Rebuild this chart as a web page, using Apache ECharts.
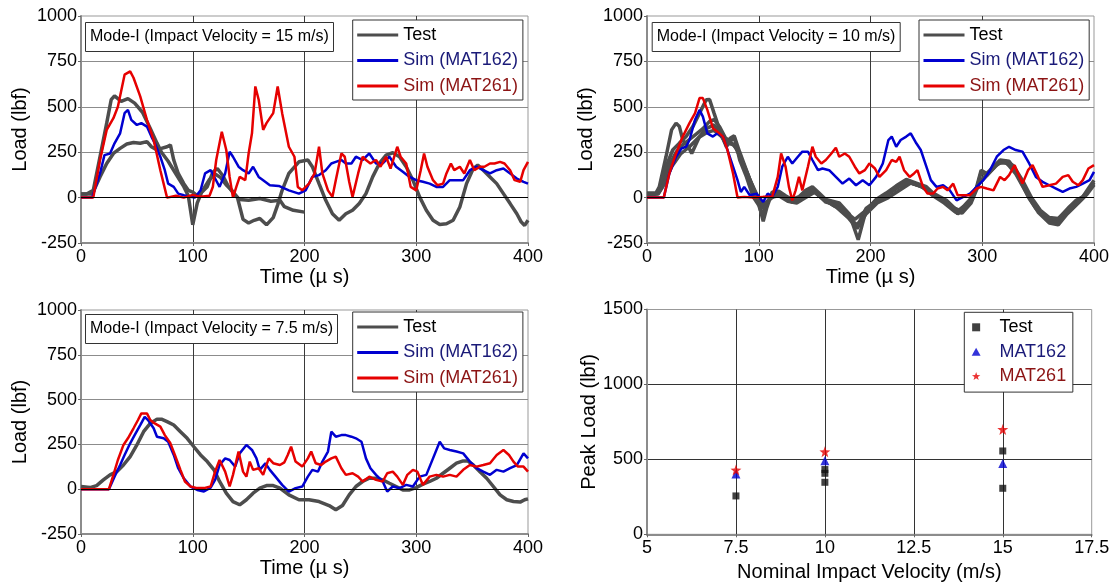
<!DOCTYPE html>
<html><head><meta charset="utf-8">
<script src="https://cdn.jsdelivr.net/npm/echarts@6/dist/echarts.min.js"></script>
<style>html,body{margin:0;padding:0;background:#fff}#c{width:1114px;height:587px}</style>
</head><body><div id="c"></div>
<script>
// ---------- Data ----------
const timeTicks = [0, 100, 200, 300, 400];
const loadTicks = [-250, 0, 250, 500, 750, 1000];
const velocityTicks = [5, 7.5, 10, 12.5, 15, 17.5];
const peakTicks = [0, 500, 1000, 1500];

// Panel 1: 15 m/s
const p1Test1 = [[0,20],[5,20],[11,40],[17,225],[23,410],[27,539],[30,560],[36,530],[42,545],[48,520],[55,470],[62,380],[68,300],[72,250],[78,200],[85,130],[92,60],[96,10],[100,-150],[104,-30],[108,30],[113,60],[118,140],[122,160],[127,120],[132,60],[137,20],[142,-10],[150,-15],[160,-5],[170,-20],[178,-15],[182,-50],[190,-70],[200,-80]];
const p1Test2 = [[0,20],[10,20],[17,114],[23,188],[29,243],[35,271],[41,295],[47,303],[53,299],[59,308],[63,280],[68,262],[72,271],[77,280],[80,290],[83,207],[87,133],[92,77],[96,40],[100,30],[105,5],[110,50],[115,100],[120,130],[125,110],[130,70],[135,40],[140,0],[145,-120],[150,-140],[155,-125],[160,-115],[166,-150],[172,-110],[176,-40],[180,40],[186,133],[195,197],[203,207],[207,170],[213,77],[219,-15],[225,-89],[231,-125],[237,-89],[243,-70],[249,-33],[255,22],[261,114],[267,188],[273,234],[279,247],[285,225],[291,170],[297,96],[303,4],[309,-70],[315,-125],[321,-148],[327,-144],[333,-125],[339,-52],[345,77],[351,160],[355,179],[360,151],[366,114],[372,77],[378,22],[384,-33],[390,-89],[394,-135],[397,-153],[400,-125]];
const p1Mat162 = [[0,0],[10,0],[17,133],[21,234],[26,243],[30,299],[35,354],[39,465],[42,483],[45,428],[50,400],[54,410],[59,391],[63,336],[66,299],[71,225],[75,151],[78,77],[83,59],[87,22],[92,13],[98,4],[102,0],[107,40],[111,133],[116,151],[120,105],[124,59],[129,133],[133,253],[136,225],[141,170],[145,151],[150,133],[154,170],[159,114],[163,96],[169,68],[177,64],[186,40],[195,22],[201,40],[207,114],[213,124],[219,151],[224,188],[228,197],[233,207],[237,188],[242,188],[246,225],[252,207],[258,243],[264,188],[270,188],[276,225],[282,170],[288,142],[294,114],[300,96],[306,87],[312,77],[318,59],[324,59],[330,96],[336,96],[342,96],[348,151],[354,170],[360,151],[366,133],[372,151],[378,160],[384,133],[390,105],[396,87],[400,77]];
const p1Mat261 = [[0,0],[11,0],[17,207],[23,373],[29,437],[33,500],[39,677],[44,695],[47,660],[53,557],[59,428],[65,317],[71,151],[77,0],[85,10],[92,0],[100,15],[107,5],[115,10],[118,60],[121,207],[126,363],[130,262],[133,114],[136,0],[139,59],[142,114],[147,96],[150,243],[153,354],[156,612],[159,539],[163,373],[166,410],[172,465],[176,612],[180,465],[186,280],[191,225],[194,59],[198,40],[204,77],[209,133],[213,280],[216,133],[221,40],[225,4],[228,96],[233,243],[236,225],[240,87],[243,4],[248,133],[252,225],[255,207],[259,188],[264,207],[268,170],[273,225],[277,160],[283,280],[286,225],[291,188],[295,59],[300,40],[304,151],[307,243],[310,170],[315,96],[319,68],[324,77],[327,133],[331,188],[334,151],[339,170],[343,133],[348,207],[352,151],[357,170],[361,170],[366,188],[370,188],[375,197],[379,188],[384,151],[388,96],[393,87],[396,151],[400,197]];

// Panel 2: 10 m/s
const p2Test1 = [[0,25],[8,25],[11,59],[17,225],[22,373],[26,410],[29,391],[32,317],[37,280],[40,243],[47,336],[53,380],[60,400],[65,360],[70,300],[75,330],[78,340],[83,250],[89,150],[95,50],[100,-30],[104,-130],[107,-60],[112,30],[118,35],[124,10],[130,-10],[136,5],[142,40],[148,60],[154,25],[160,-10],[172,-30],[181,-90],[189,-232],[196,-70],[205,-10],[214,25],[223,65],[232,100],[241,80],[250,60],[256,25],[262,5],[268,-15],[274,-50],[278,-75],[283,-50],[289,-10],[295,60],[299,151],[304,133],[310,170],[316,207],[324,200],[330,150],[336,80],[342,5],[348,-50],[354,-85],[360,-120],[366,-130],[372,-90],[378,-50],[384,-15],[390,5],[396,60],[400,96]];
const p2Test2 = [[0,20],[8,22],[12,60],[17,170],[23,262],[29,300],[35,336],[41,391],[47,465],[53,539],[56,540],[60,465],[65,373],[71,280],[75,317],[78,336],[83,207],[89,114],[95,4],[100,-42],[103,-100],[106,-40],[112,15],[118,20],[124,-5],[130,-25],[136,-10],[142,25],[148,45],[154,10],[160,-25],[172,-45],[181,-100],[187,-150],[190,-135],[196,-60],[205,-20],[214,15],[223,50],[232,90],[241,70],[250,50],[256,15],[262,-5],[268,-25],[274,-60],[278,-90],[283,-60],[289,-20],[295,50],[299,140],[304,125],[310,160],[316,200],[320,195],[324,180],[330,145],[336,70],[342,-5],[348,-60],[354,-95],[360,-130],[366,-140],[372,-95],[378,-55],[384,-20],[390,0],[396,50],[400,85]];
const p2Test3 = [[0,15],[10,20],[14,60],[20,180],[26,250],[32,290],[38,320],[44,350],[50,380],[56,420],[60,430],[65,390],[70,330],[76,300],[80,270],[86,190],[92,100],[98,20],[104,-60],[110,0],[118,10],[126,-20],[134,-30],[142,0],[150,30],[158,-10],[170,-55],[180,-110],[188,-170],[196,-90],[206,-30],[216,0],[226,40],[236,80],[246,60],[256,10],[266,-30],[276,-80],[282,-85],[290,-30],[298,90],[306,140],[314,190],[322,190],[330,130],[340,20],[350,-80],[360,-140],[368,-150],[376,-90],[386,-30],[394,20],[400,70]];
const p2Test4 = [[0,20],[10,22],[15,70],[22,170],[30,240],[38,280],[46,330],[54,360],[60,370],[66,340],[72,300],[78,290],[84,220],[90,130],[96,40],[102,-40],[108,-20],[116,20],[124,0],[132,-20],[140,10],[148,40],[156,0],[166,-40],[178,-80],[186,-120],[194,-80],[204,-25],[214,10],[224,55],[234,85],[244,65],[254,30],[264,-10],[274,-55],[280,-70],[288,-35],[296,70],[304,120],[312,175],[320,205],[328,175],[336,95],[344,0],[352,-70],[360,-110],[368,-115],[376,-70],[386,-20],[394,30],[400,75]];
const p2Mat162 = [[0,0],[15,0],[20,133],[26,225],[31,271],[35,280],[38,317],[43,428],[47,483],[50,446],[54,354],[59,336],[63,354],[68,336],[72,262],[77,170],[81,96],[84,31],[87,59],[92,13],[98,22],[104,-24],[108,22],[112,4],[117,59],[121,170],[126,225],[130,188],[135,225],[139,253],[144,253],[148,207],[153,151],[157,160],[163,151],[169,114],[175,77],[181,105],[187,68],[193,96],[199,68],[205,114],[211,188],[216,317],[219,336],[223,280],[227,317],[232,336],[236,354],[241,299],[245,262],[250,170],[254,96],[259,59],[265,68],[271,40],[277,-15],[283,4],[289,22],[295,59],[301,96],[307,151],[313,225],[319,262],[324,280],[330,262],[336,253],[342,188],[348,114],[354,87],[360,68],[366,50],[372,31],[378,50],[384,59],[390,77],[396,96],[400,142]];
const p2Mat261 = [[0,0],[15,0],[20,133],[26,243],[32,336],[38,410],[43,465],[47,548],[50,548],[54,483],[59,382],[63,363],[68,336],[72,262],[77,133],[81,0],[87,4],[95,0],[104,4],[112,4],[117,114],[120,243],[124,170],[127,59],[130,-15],[133,40],[136,114],[139,40],[144,170],[148,280],[151,225],[156,188],[160,207],[165,243],[169,275],[172,225],[177,243],[181,225],[186,170],[190,133],[195,151],[199,188],[204,160],[208,114],[214,151],[219,207],[223,197],[226,225],[230,151],[235,114],[239,133],[242,151],[247,59],[251,22],[256,22],[260,50],[265,59],[269,40],[274,77],[278,13],[283,13],[289,13],[295,50],[299,59],[304,50],[310,40],[316,114],[320,96],[324,124],[329,179],[332,133],[336,77],[341,151],[345,179],[350,114],[354,59],[360,68],[366,77],[372,114],[377,124],[381,87],[386,68],[390,96],[395,160],[400,179]];

// Panel 3: 7.5 m/s
const p3Test = [[0,15],[8,9],[14,20],[20,52],[26,80],[32,98],[38,135],[44,182],[50,247],[56,321],[62,367],[68,391],[72,391],[77,377],[83,358],[89,321],[95,284],[101,237],[107,191],[113,154],[119,108],[124,43],[130,-22],[136,-69],[142,-87],[148,-59],[154,-22],[160,6],[166,20],[172,20],[178,6],[186,-32],[195,-59],[204,-59],[213,-69],[222,-91],[228,-115],[234,-91],[240,-32],[246,15],[252,43],[258,61],[264,61],[270,52],[276,33],[282,15],[288,-4],[294,-4],[300,9],[306,28],[312,43],[318,61],[324,89],[330,117],[336,145],[342,158],[346,158],[351,135],[357,98],[363,61],[369,15],[375,-32],[381,-59],[387,-69],[393,-72],[397,-59],[400,-54]];
const p3Mat162 = [[0,0],[25,0],[30,70],[35,135],[39,191],[44,256],[48,302],[53,358],[57,404],[60,386],[65,340],[68,293],[74,284],[78,265],[83,191],[87,117],[92,61],[98,15],[104,-4],[110,-13],[116,9],[120,52],[124,135],[129,172],[133,163],[138,126],[142,200],[148,247],[153,219],[157,172],[160,108],[165,145],[169,108],[174,70],[180,24],[186,-13],[192,6],[198,15],[203,70],[207,108],[212,98],[216,154],[221,210],[224,321],[228,293],[233,302],[237,302],[242,293],[246,284],[251,265],[255,172],[259,117],[264,80],[270,43],[274,-13],[279,15],[285,6],[291,24],[297,15],[303,70],[309,80],[315,172],[321,265],[325,228],[330,219],[336,210],[342,200],[348,154],[354,117],[360,98],[366,80],[372,108],[378,98],[384,117],[390,135],[396,200],[400,172]];
const p3Mat261 = [[0,0],[25,0],[29,80],[33,163],[38,247],[42,284],[47,340],[51,386],[54,423],[59,423],[62,386],[66,367],[71,349],[75,302],[80,256],[84,191],[89,108],[93,43],[98,15],[104,6],[110,6],[116,15],[120,98],[124,163],[129,98],[133,15],[136,80],[141,210],[145,98],[148,70],[151,154],[154,108],[159,117],[163,80],[168,172],[172,145],[178,135],[182,150],[185,191],[188,237],[192,154],[198,126],[203,172],[206,210],[210,145],[215,135],[219,154],[224,172],[228,182],[233,117],[237,80],[243,89],[248,70],[252,43],[258,70],[264,52],[270,43],[274,89],[279,98],[283,70],[288,24],[292,80],[297,108],[301,98],[306,24],[312,70],[318,80],[324,70],[330,80],[336,70],[342,108],[348,135],[354,126],[360,135],[366,145],[372,191],[378,219],[383,191],[387,154],[391,126],[396,126],[400,98]];

// Panel 4: peak loads
const peakTest = [[7.5,256],[10,347],[10,407],[10,432],[15,556],[15,307]];
const peakMat162 = [[7.5,402],[10,491],[15,473]];
const peakMat261 = [[7.5,429],[10,551],[15,700]];

const annotations = ['Mode-I (Impact Velocity = 15 m/s)','Mode-I (Impact Velocity = 10 m/s)','Mode-I (Impact Velocity = 7.5 m/s)'];

// ---------- Chart ----------
const FONT = '"Liberation Sans", Arial, sans-serif';
const GRAY = '#4d4d4d', BLUE = '#0000d0', RED = '#e60000';
const NAVY = '#1a1a78', DRED = '#8c1414';
const SQUARE = 'path://M0,0 L10,0 L10,10 L0,10 Z';
const TRI = 'path://M5,0 L10,9 L0,9 Z';
const STAR = 'path://M0,-10 L2.35,-3.24 L9.51,-3.09 L3.8,1.24 L5.88,8.09 L0,4 L-5.88,8.09 L-3.8,1.24 L-9.51,-3.09 L-2.35,-3.24 Z';
const plain = v => String(v);

const grids = [
  {left:81, top:16, width:447, height:227},
  {left:647, top:16, width:447, height:227},
  {left:81, top:310, width:447, height:224},
  {left:647, top:309.5, width:444.7, height:224.8}
].map(g => Object.assign(g, {show:true, borderColor:'#999', borderWidth:1, backgroundColor:'transparent'}));

function timeX(i){
  return {type:'value', gridIndex:i, min:timeTicks[0], max:timeTicks[timeTicks.length-1], interval:100,
    name:'Time (µ s)', nameLocation:'middle', nameGap:24,
    nameTextStyle:{fontSize:20, color:'#000', fontFamily:FONT},
    axisLine:{show:true, onZero:false, lineStyle:{color:'#8c8c8c', width:2}},
    axisTick:{show:true, length:3, lineStyle:{color:'#666'}},
    axisLabel:{fontSize:18, color:'#000', margin:5, fontFamily:FONT, formatter:plain},
    splitLine:{show:true, showMinLine:false, showMaxLine:false, lineStyle:{color:'#3a3a3a', width:1}}};
}
function loadY(i){
  return {type:'value', gridIndex:i, min:loadTicks[0], max:loadTicks[loadTicks.length-1], interval:250,
    name:'Load (lbf)', nameLocation:'middle', nameGap:51,
    nameTextStyle:{fontSize:20, color:'#000', fontFamily:FONT},
    axisLine:{show:true, lineStyle:{color:'#8c8c8c', width:2}},
    axisTick:{show:true, length:3, lineStyle:{color:'#666'}},
    axisLabel:{fontSize:18, color:'#000', margin:4, fontFamily:FONT, formatter:plain},
    splitLine:{show:true, showMinLine:false, showMaxLine:false, lineStyle:{color:'#8c8c8c', width:1}}};
}
function line(name, data, g, color, width, z){
  return {type:'line', name, data, xAxisIndex:g, yAxisIndex:g, symbol:'none', showSymbol:false,
    lineStyle:{color, width}, itemStyle:{color}, z, silent:true, animation:false};
}
function zero(g){
  return {type:'line', name:'_zero'+g, data:[], xAxisIndex:g, yAxisIndex:g, symbol:'none', z:1, silent:true, animation:false,
    markLine:{silent:true, symbol:['none','none'], label:{show:false}, animation:false,
      lineStyle:{color:'#000', width:1, type:'solid'}, data:[{yAxis:0}]}};
}
function lineLegend(left, top){
  return {left, top, orient:'vertical', selectedMode:false, icon:'rect',
    data:[{name:'Test', textStyle:{color:'#000'}},{name:'Sim (MAT162)', textStyle:{color:NAVY}},{name:'Sim (MAT261)', textStyle:{color:DRED}}],
    itemWidth:41, itemHeight:3, itemGap:7.5, padding:[6,5,5,4.5],
    borderColor:'#333', borderWidth:1, backgroundColor:'#fff', borderRadius:0,
    textStyle:{fontSize:18, lineHeight:18, fontFamily:FONT}};
}
function note(text, left, top){
  return {text, left, top, padding:[6,5,6,5], borderColor:'#333', borderWidth:1, backgroundColor:'#fff',
    textStyle:{fontSize:16, lineHeight:18, fontWeight:'normal', color:'#000', fontFamily:FONT}};
}

const series = [
  zero(0),
  line('Test', p1Test1, 0, GRAY, 3.5, 2), line('Test', p1Test2, 0, GRAY, 3.5, 2),
  line('Sim (MAT162)', p1Mat162, 0, BLUE, 2.5, 3), line('Sim (MAT261)', p1Mat261, 0, RED, 2.5, 4),
  zero(1),
  line('Test', p2Test1, 1, GRAY, 3.5, 2), line('Test', p2Test2, 1, GRAY, 3.5, 2),
  line('Test', p2Test3, 1, GRAY, 3.5, 2), line('Test', p2Test4, 1, GRAY, 3.5, 2),
  line('Sim (MAT162)', p2Mat162, 1, BLUE, 2.5, 3), line('Sim (MAT261)', p2Mat261, 1, RED, 2.5, 4),
  zero(2),
  line('Test', p3Test, 2, GRAY, 3.5, 2),
  line('Sim (MAT162)', p3Mat162, 2, BLUE, 2.5, 3), line('Sim (MAT261)', p3Mat261, 2, RED, 2.5, 4),
  {type:'scatter', name:'Peak Test', data:peakTest, xAxisIndex:3, yAxisIndex:3, symbol:'rect', symbolSize:7, itemStyle:{color:'#111'}, z:3, silent:true},
  {type:'scatter', name:'MAT162', data:peakMat162, xAxisIndex:3, yAxisIndex:3, symbol:'triangle', symbolSize:9, itemStyle:{color:BLUE}, z:4, silent:true},
  {type:'scatter', name:'MAT261', data:peakMat261, xAxisIndex:3, yAxisIndex:3, symbol:STAR, symbolSize:11, itemStyle:{color:RED}, z:5, silent:true}
];

const option = {
  animation:false,
  textStyle:{fontFamily:FONT},
  grid: grids,
  title: [note(annotations[0], 85, 22), note(annotations[1], 651.7, 22), note(annotations[2], 85, 314)],
  legend: [
    lineLegend(352.7, 20), lineLegend(919, 20), lineLegend(352.7, 312),
    {left:964.3, top:312.3, orient:'vertical', selectedMode:false,
     data:[{name:'Peak Test', icon:SQUARE, textStyle:{color:'#000'}},{name:'MAT162', icon:TRI, textStyle:{color:NAVY}},{name:'MAT261', icon:STAR, textStyle:{color:DRED}}],
     formatter: n => n === 'Peak Test' ? 'Test' : n,
     itemWidth:36.6, itemHeight:8, itemGap:6.4, padding:[6,6.7,7,7.4], symbolKeepAspect:true,
     borderColor:'#333', borderWidth:1, backgroundColor:'#fff',
     textStyle:{fontSize:18, lineHeight:18, fontFamily:FONT}}
  ],
  xAxis: [timeX(0), timeX(1), timeX(2),
    {type:'value', gridIndex:3, min:velocityTicks[0], max:velocityTicks[velocityTicks.length-1], interval:2.5,
     name:'Nominal Impact Velocity (m/s)', nameLocation:'middle', nameGap:28,
     nameTextStyle:{fontSize:20, color:'#000', fontFamily:FONT},
     axisLine:{show:true, onZero:false, lineStyle:{color:'#8c8c8c', width:2}},
     axisTick:{show:true, length:3, lineStyle:{color:'#666'}},
     axisLabel:{fontSize:18, color:'#000', margin:5, fontFamily:FONT, formatter:plain},
     splitLine:{show:true, showMinLine:false, showMaxLine:false, lineStyle:{color:'#333', width:1}}}],
  yAxis: [loadY(0), loadY(1), loadY(2),
    {type:'value', gridIndex:3, min:peakTicks[0], max:peakTicks[peakTicks.length-1], interval:500,
     name:'Peak Load (lbf)', nameLocation:'middle', nameGap:48,
     nameTextStyle:{fontSize:20, color:'#000', fontFamily:FONT},
     axisLine:{show:true, lineStyle:{color:'#8c8c8c', width:2}},
     axisTick:{show:true, length:3, lineStyle:{color:'#666'}},
     axisLabel:{fontSize:18, color:'#000', margin:4, fontFamily:FONT, formatter:plain},
     splitLine:{show:true, showMinLine:false, showMaxLine:false, lineStyle:{color:'#333', width:1}}}],
  series
};
const chart = echarts.init(document.getElementById('c'), null, {renderer:'canvas'});
chart.setOption(option);
</script></body></html>
